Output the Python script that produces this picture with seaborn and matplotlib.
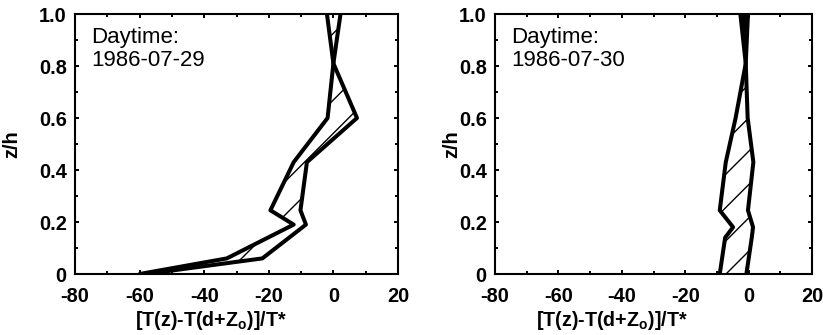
import numpy as np
import pandas as pd
import matplotlib
matplotlib.use("Agg")
import matplotlib.pyplot as plt
import seaborn as sns
from matplotlib.ticker import MultipleLocator, FixedLocator, FixedFormatter

# ---------------- data ----------------
# Panel 1: Daytime 1986-07-29
z_left = [0.0, 0.06, 0.19, 0.245, 0.43, 0.60, 0.81, 1.0]
left_bound_a = [-58.0, -22.0, -8.5, -10.2, -8.2, 7.3, 0.0, -2.0]
left_bound_b = [-60.0, -33.0, -12.3, -19.5, -12.3, -1.8, 0.0, 2.2]

# Panel 2: Daytime 1986-07-30
z_right = [0.0, 0.14, 0.18, 0.245, 0.43, 0.60, 0.81, 1.0]
right_bound_a = [-0.7, 1.0, 1.4, -0.2, 1.5, -0.3, -0.9, -0.2]
right_bound_b = [-9.1, -7.4, -4.9, -9.1, -7.2, -4.1, -0.9, -2.6]

panel_titles = ["Daytime:\n1986-07-29", "Daytime:\n1986-07-30"]
x_ticks = [-80, -60, -40, -20, 0, 20]
x_tick_labels = ["-80", "-60", "-40", "-20", "0", "20"]
y_ticks = [0.0, 0.2, 0.4, 0.6, 0.8, 1.0]
y_tick_labels = ["0", "0.2", "0.4", "0.6", "0.8", "1.0"]
x_label = r"[T(z)-T(d+Z$_\mathregular{o}$)]/T*"
y_label = "z/h"

# ---------------- style ----------------
sns.set_theme(style="ticks")
DPI = 200
plt.rcParams["font.family"] = ["Liberation Sans", "DejaVu Sans"]
plt.rcParams["hatch.linewidth"] = 0.5
plt.rcParams["hatch.color"] = "black"
plt.rcParams["axes.linewidth"] = 0.75

fig = plt.figure(figsize=(823 / DPI, 335 / DPI), dpi=DPI)
ax1 = fig.add_axes([75 / 823, 1 - 274 / 335, 323 / 823, 260 / 335])
ax2 = fig.add_axes([495 / 823, 1 - 274 / 335, 317 / 823, 260 / 335])

panels = [
    (ax1, z_left, left_bound_a, left_bound_b, panel_titles[0], 0.42, -0.165, False),
    (ax2, z_right, right_bound_a, right_bound_b, panel_titles[1], 0.37, -0.105, True),
]

for ax, z, a, b, title, xl_pos, yl_pos, solid_top in panels:
    df = pd.DataFrame({"z": z + z,
                       "T": a + b,
                       "bound": ["a"] * len(z) + ["b"] * len(z)})
    # hatched envelope between the two bounds
    ax.fill_betweenx(z, a, b, facecolor="none", edgecolor="black",
                     hatch="//", linewidth=0)
    if solid_top:
        ax.fill_betweenx(z, a, b, where=np.array(z) >= 0.8,
                         facecolor="black", linewidth=0)
    sns.lineplot(data=df, x="T", y="z", units="bound", estimator=None,
                 sort=False, orient="y", color="black", linewidth=1.45,
                 ax=ax, legend=False)
    ax.set_xlim(-80, 20)
    ax.set_ylim(0, 1)
    ax.xaxis.set_major_locator(FixedLocator(x_ticks))
    ax.xaxis.set_major_formatter(FixedFormatter(x_tick_labels))
    ax.xaxis.set_minor_locator(MultipleLocator(10))
    ax.yaxis.set_major_locator(FixedLocator(y_ticks))
    ax.yaxis.set_major_formatter(FixedFormatter(y_tick_labels))
    ax.yaxis.set_minor_locator(MultipleLocator(0.1))
    ax.tick_params(which="both", direction="in", top=True, right=True,
                   width=0.7, colors="black")
    ax.tick_params(which="major", length=1.6)
    ax.tick_params(which="minor", length=1.1)
    ax.tick_params(axis="x", which="major", pad=4.5)
    ax.tick_params(axis="y", which="major", pad=3.0)
    for lab in ax.get_xticklabels() + ax.get_yticklabels():
        lab.set_fontsize(7.2)
        lab.set_fontweight("bold")
    for sp in ax.spines.values():
        sp.set_visible(True)
        sp.set_color("black")
        sp.set_linewidth(0.75)
    ax.set_xlabel(x_label, fontsize=7.1, fontweight="bold", color="black")
    ax.xaxis.set_label_coords(xl_pos, -0.18)
    ax.xaxis.label.set_verticalalignment("center")
    ax.set_ylabel(y_label, fontsize=7.2, fontweight="bold", color="black")
    ax.yaxis.set_label_coords(yl_pos, 0.5)
    ax.text(0.05, 0.95, title, transform=ax.transAxes, ha="left", va="top",
            fontsize=8.0, color="black", linespacing=1.1)

fig.savefig("out.png", dpi=DPI, facecolor="white")
